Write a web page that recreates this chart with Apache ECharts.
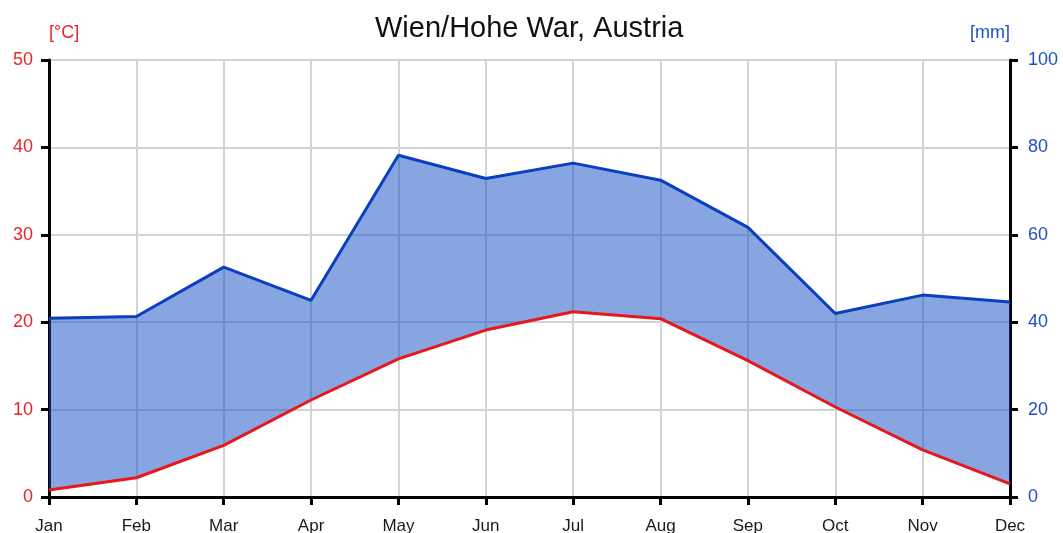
<!DOCTYPE html>
<html><head><meta charset="utf-8">
<script src="https://cdn.jsdelivr.net/npm/echarts@6/dist/echarts.min.js"></script>
<style>html,body{margin:0;padding:0;background:#fff}#c{width:1063px;height:533px}</style>
</head><body><div id="c"></div>
<script>
const months = ['Jan','Feb','Mar','Apr','May','Jun','Jul','Aug','Sep','Oct','Nov','Dec'];
const temperature = [0.8, 2.2, 5.9, 11.1, 15.8, 19.1, 21.2, 20.4, 15.6, 10.3, 5.4, 1.5];
const precipitation = [40.9, 41.3, 52.6, 45.0, 78.2, 72.9, 76.4, 72.5, 61.7, 42.0, 46.2, 44.6];

const tempOnMm = temperature.map(t => t * 2);
const band = precipitation.map((p, i) => p - tempOnMm[i]);

const font = 'Liberation Sans, Arial, sans-serif';
const chart = echarts.init(document.getElementById('c'));
chart.setOption({
  animation: false,
  title: { text: 'Wien/Hohe War, Austria', left: 370, top: 9,
    textStyle: { fontFamily: font, fontSize: 29, fontWeight: 'normal', color: '#111' } },
  grid: { left: 49, right: 53, top: 60, bottom: 36, containLabel: false, outerBoundsMode: 'none' },
  xAxis: {
    type: 'category', data: months, boundaryGap: false,
    axisLine: { lineStyle: { color: '#000', width: 3 } },
    axisTick: { show: true, length: 8, lineStyle: { color: '#000', width: 3 } },
    axisLabel: { fontFamily: font, fontSize: 17, color: '#1a1a1a', margin: 21 },
    splitLine: { show: true, lineStyle: { color: '#d3d3d3', width: 2 } }
  },
  yAxis: [{
    type: 'value', min: 0, max: 50, interval: 10, position: 'left',
    name: '[°C]', nameLocation: 'end', nameGap: 18,
    nameTextStyle: { fontFamily: font, fontSize: 18, color: '#e8262a', align: 'left' },
    axisLine: { show: true, lineStyle: { color: '#000', width: 3 } },
    axisTick: { show: true, length: 8, lineStyle: { color: '#000', width: 3 } },
    axisLabel: { fontFamily: font, fontSize: 18, color: '#e8262a', margin: 16 },
    splitLine: { show: true, lineStyle: { color: '#d3d3d3', width: 2 } }
  }, {
    type: 'value', min: 0, max: 100, interval: 20, position: 'right',
    name: '[mm]', nameLocation: 'end', nameGap: 18,
    nameTextStyle: { fontFamily: font, fontSize: 18, color: '#1f4fc6', align: 'right' },
    axisLine: { show: true, lineStyle: { color: '#000', width: 3 } },
    axisTick: { show: true, length: 8, lineStyle: { color: '#000', width: 3 } },
    axisLabel: { fontFamily: font, fontSize: 18, color: '#1f4fc6', margin: 18 },
    splitLine: { show: false }
  }],
  series: [
    { type: 'line', yAxisIndex: 1, data: tempOnMm, stack: 'b', symbol: 'none',
      lineStyle: { opacity: 0 }, silent: true, z: 1 },
    { type: 'line', yAxisIndex: 1, data: band, stack: 'b', symbol: 'none',
      lineStyle: { opacity: 0 }, areaStyle: { color: 'rgba(15,75,195,0.5)', opacity: 1 }, silent: true, z: 3 },
    { type: 'line', yAxisIndex: 0, data: temperature, symbol: 'none',
      lineStyle: { color: '#e8171c', width: 3 }, z: 4 },
    { type: 'line', yAxisIndex: 1, data: precipitation, symbol: 'none',
      lineStyle: { color: '#0a3fbf', width: 3 }, z: 5 }
  ]
});
</script></body></html>
